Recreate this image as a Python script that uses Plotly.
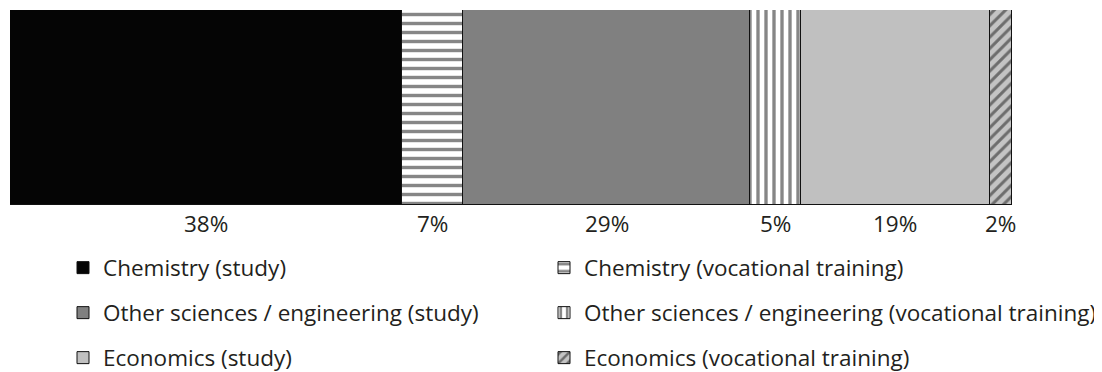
import plotly.graph_objects as go
import numpy as np

categories = [
    "Chemistry (study)",
    "Chemistry (vocational training)",
    "Other sciences / engineering (study)",
    "Other sciences / engineering (vocational training)",
    "Economics (study)",
    "Economics (vocational training)",
]
values = [39.1, 6.1, 28.7, 5.0, 18.9, 2.2]
value_labels = ["38%", "7%", "29%", "5%", "19%", "2%"]

fills = ["#050505", "white", "#808080", "white", "#c0c0c0", "#c4c4c4"]
patterns = [
    dict(shape=""),
    dict(shape="-", size=9, solidity=0.38, fgcolor="#0d0d0d", bgcolor="white", fillmode="overlay"),
    dict(shape=""),
    dict(shape="|", size=8, solidity=0.42, fgcolor="#0d0d0d", bgcolor="white", fillmode="overlay"),
    dict(shape=""),
    dict(shape="/", size=8, solidity=0.38, fgcolor="#151515", bgcolor="#c4c4c4", fillmode="overlay"),
]
legend_ids = ["legend", "legend2", "legend3", "legend4", "legend5", "legend6"]

FONT = "Open Sans"
TXT = "#231f20"
FS = 22.5

W, H = 1102, 372
OFF = 8  # page body margin
# plot area in screen pixels: x 10..1012, y 10..205
ml, mt = 10 - OFF, 10 - OFF
mr = W - (1012 - OFF)
mb = H - (205 - OFF)
ph = H - mt - mb
pw = W - ml - mr

def py(ypix):
    return (205 - ypix) / ph

def px(xpix):
    return (xpix - 10) / pw

fig = go.Figure()
for i, (cat, v) in enumerate(zip(categories, values)):
    fig.add_trace(go.Bar(
        y=["share"], x=[v], name=cat, orientation="h",
        marker=dict(color=fills[i], pattern=patterns[i],
                    line=dict(color="#111111", width=1)),
        legend=legend_ids[i], showlegend=True, hoverinfo="skip",
    ))

cum = np.cumsum([0] + values)
for i, lab in enumerate(value_labels):
    fig.add_annotation(x=(cum[i] + cum[i + 1]) / 2, y=0, xref="x", yref="paper",
                       yanchor="top", yshift=-1, text=lab, showarrow=False,
                       font=dict(family=FONT, size=FS, color=TXT))

col_x = [63, 544]
row_y = [268, 313, 358]
leg_common = dict(orientation="h", xanchor="left", yanchor="middle",
                  bgcolor="rgba(0,0,0,0)", font=dict(family=FONT, size=FS, color=TXT))
legends = {}
for i, lid in enumerate(legend_ids):
    legends[lid] = dict(x=px(col_x[i % 2]), y=py(row_y[i // 2]), **leg_common)

fig.update_layout(
    width=W, height=H,
    showlegend=True,
    margin=dict(l=ml, r=mr, t=mt, b=mb, autoexpand=False),
    barmode="stack", bargap=0,
    plot_bgcolor="white", paper_bgcolor="white",
    xaxis=dict(range=[0, 100], visible=False),
    yaxis=dict(visible=False),
    **legends,
)

fig.write_html("out.html")
